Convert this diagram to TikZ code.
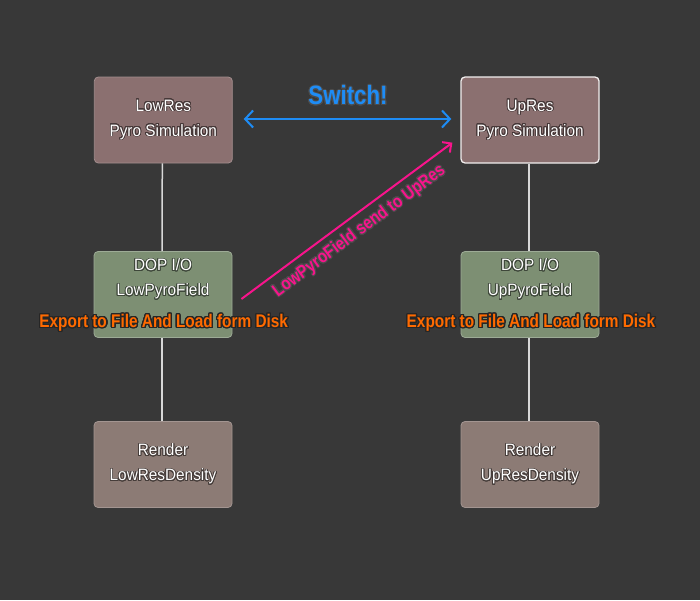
\documentclass[tikz,border=0pt]{standalone}
\usepackage{fontspec}
\setmainfont{Liberation Sans}
\newfontfamily\boxfont[FakeStretch=0.93]{Liberation Sans}
\newfontfamily\narrowfont[FakeStretch=0.84]{Liberation Sans}
\usepackage{contour}
\contournumber{24}
\usetikzlibrary{arrows.meta}
\definecolor{bg}{HTML}{383838}
\definecolor{pyrofill}{HTML}{8B7070}
\definecolor{dopfill}{HTML}{7D8F73}
\definecolor{renderfill}{HTML}{8C7B75}
\definecolor{switchblue}{HTML}{1E8CF5}
\definecolor{sendpink}{HTML}{F8148C}
\definecolor{exportorange}{HTML}{FF6A00}
\definecolor{connline}{HTML}{D8D8D8}
\newcommand\gw[2]{\contour{#1}{#2}}
\tikzset{
  nodebox/.style={rounded corners=4pt, minimum width=138pt, minimum height=86pt,
    inner sep=0pt, line width=0.8pt, text=white, align=center,
    font=\boxfont\fontsize{16.5}{25}\selectfont\contourlength{0.8pt}},
  pyrobox/.style={nodebox, fill=pyrofill, draw=pyrofill!80!white},
  selbox/.style={nodebox, fill=pyrofill, draw=white!88!pyrofill, line width=1.3pt},
  dopbox/.style={nodebox, fill=dopfill, draw=dopfill!75!white},
  renderbox/.style={nodebox, fill=renderfill, draw=renderfill!80!white},
  boxtext/.style={text=white, align=center, inner sep=0pt,
    font=\boxfont\fontsize{16.5}{25}\selectfont\contourlength{0.8pt}},
  conn/.style={draw=connline, line width=1.5pt},
  switcharrow/.style={draw=switchblue, line width=2pt,
    >={Straight Barb[length=8pt,width=17pt]}, <->},
  sendarrow/.style={draw=sendpink, line width=2pt,
    >={Straight Barb[length=6.5pt,width=13pt]}, ->},
  switchlabel/.style={text=switchblue, inner sep=0pt,
    font=\narrowfont\bfseries\fontsize{26.5}{30}\selectfont\contourlength{1pt}},
  sendlabel/.style={text=sendpink, inner sep=0pt,
    font=\narrowfont\bfseries\fontsize{18}{22}\selectfont\contourlength{1pt}},
  exportlabel/.style={text=exportorange, inner sep=0pt,
    font=\narrowfont\bfseries\fontsize{18.3}{22}\selectfont\contourlength{1.3pt}},
}
\begin{document}
\begin{tikzpicture}[x=1pt,y=-1pt]
\fill[bg] (0,0) rectangle (700,600);

% boxes
\node[pyrobox] (lowpyro) at (163.3,120)
  {\gw{pyrofill!50!black}{LowRes}\\\gw{pyrofill!50!black}{Pyro Simulation}};
\node[selbox] (uppyro) at (530,120)
  {\gw{pyrofill!50!black}{UpRes}\\\gw{pyrofill!50!black}{Pyro Simulation}};
\node[dopbox] (lowdop) at (163,294.5) {};
\node[dopbox] (updop) at (530,294.5) {};
\node[renderbox] (lowrender) at (163,464.5)
  {\gw{renderfill!50!black}{Render}\\\gw{renderfill!50!black}{LowResDensity}};
\node[renderbox] (uprender) at (530,464.5)
  {\gw{renderfill!50!black}{Render}\\\gw{renderfill!50!black}{UpResDensity}};

% DOP texts (set higher than box centre)
\node[boxtext] (lowdoptext) at (163,279.5)
  {\gw{dopfill!50!black}{DOP I/O}\\\gw{dopfill!50!black}{LowPyroField}};
\node[boxtext] (updoptext) at (530,279.5)
  {\gw{dopfill!50!black}{DOP I/O}\\\gw{dopfill!50!black}{UpPyroField}};

% vertical connectors
\draw[conn] ([xshift=-1pt]lowpyro.south) -- ([xshift=-1pt]lowdop.north);
\draw[conn] ([xshift=-1pt]lowdop.south) -- ([xshift=-1pt]lowrender.north);
\draw[conn] ([xshift=-1pt]uppyro.south) -- ([xshift=-1pt]updop.north);
\draw[conn] ([xshift=-1pt]updop.south) -- ([xshift=-1pt]uprender.north);

% switch arrow
\draw[switcharrow, shorten <=11pt, shorten >=9pt]
  ([yshift=1pt]lowpyro.east) -- ([yshift=1pt]uppyro.west);
\node[switchlabel] (switch) at (348,96) {\gw{black!70}{Switch!}};

% send arrow
\coordinate (sendstart) at ([xshift=9pt,yshift=-4.5pt]lowdop.east);
\coordinate (sendend) at ([xshift=-8pt,yshift=21pt]uppyro.south west);
\draw[sendarrow] (sendstart) -- (sendend);
\node[sendlabel, rotate=36.5] (sendtext) at (359.5,231.5)
  {\gw{black!70}{LowPyroField send to UpRes}};

% export labels
\node[exportlabel, anchor=base] (lowexport) at (163.7,327.5)
  {\gw{black!85}{Export to File And Load form Disk}};
\node[exportlabel, anchor=base] (upexport) at (531,327.5)
  {\gw{black!85}{Export to File And Load form Disk}};
\end{tikzpicture}
\end{document}
